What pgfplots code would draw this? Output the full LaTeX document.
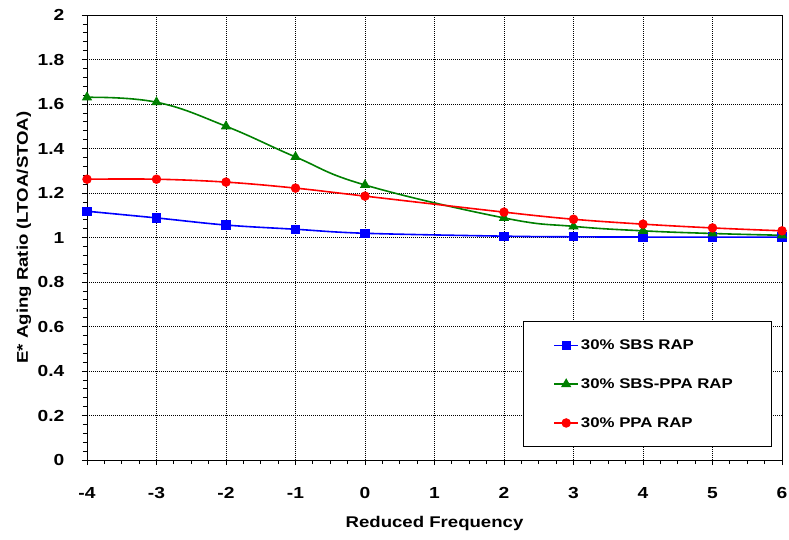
\documentclass[border=0pt]{standalone}
\usepackage{fontspec}
\setmainfont{Liberation Sans}[FakeStretch=1.2]
\usepackage{pgfplots}
\pgfplotsset{compat=1.18}
\begin{document}
\begin{tikzpicture}
\begin{axis}[
  scale only axis,
  width=695pt, height=445pt,
  xmin=-4, xmax=6, ymin=0, ymax=2,
  xtick={-4,-3,...,6},
  ytick={0,0.2,...,2},
  minor x tick num=3,
  minor y tick num=4,
  yticklabel style={/pgf/number format/fixed,/pgf/number format/precision=1},
  /pgf/number format/assume math mode=true,
  tick label style={font=\fontsize{16}{18}\selectfont\bfseries, inner sep=0pt},
  x tick label style={anchor=center, yshift=-28pt},
  y tick label style={anchor=east, xshift=-17.5pt},
  label style={font=\fontsize{15.5}{17}\selectfont\bfseries},
  xlabel={Reduced Frequency},
  ylabel={E* Aging Ratio (LTOA/STOA)},
  xlabel style={at={(rel axis cs:0.5,0)}, anchor=center, yshift=-63pt},
  ylabel style={at={(rel axis cs:0,0.5)}, anchor=center, yshift=63pt},
  grid=major,
  major grid style={black, line width=0.6pt, dash pattern=on 1pt off 1pt},
  axis line style={black, line width=0.9pt},
  major tick length=5pt, minor tick length=4pt,
  major tick style={black, line width=0.8pt},
  minor tick style={black, line width=0.8pt},
  xtick pos=bottom, ytick pos=left,
  xtick align=outside, ytick align=outside,
  legend style={at={(rel axis cs:0.6273,0.0292)}, anchor=south west,
    draw=black, line width=0.8pt, font=\fontsize{14}{16}\selectfont\bfseries,
    inner xsep=30pt, inner ysep=16pt, row sep=23.5pt,
    text width=158pt},
  legend cell align=left,
  legend image code/.code={\draw[mark repeat=2,mark phase=2,#1] plot coordinates {(0pt,0pt) (12pt,0pt) (24pt,0pt)};},
]
\addplot[blue, line width=1.6pt, smooth, tension=0.6, mark=square*, mark size=3.8pt, mark options={solid}]
  coordinates {(-4,1.118) (-3,1.088) (-2,1.056) (-1,1.037) (0,1.019) (2,1.006) (3,1.003) (4,1.002) (5,1.002) (6,1.002)};
\addlegendentry{30\% SBS RAP}
\addplot[green!50!black, line width=1.6pt, smooth, tension=0.7, mark=triangle*, mark size=4.4pt, mark options={solid}]
  coordinates {(-4,1.630) (-3,1.608) (-2,1.500) (-1,1.362) (0,1.236) (2,1.088) (3,1.050) (4,1.030) (5,1.018) (6,1.010)};
\addlegendentry{30\% SBS-PPA RAP}
\addplot[red, line width=1.6pt, smooth, tension=0.6, mark=*, mark size=3.9pt, mark options={solid}]
  coordinates {(-4,1.262) (-3,1.262) (-2,1.249) (-1,1.222) (0,1.186) (2,1.114) (3,1.082) (4,1.060) (5,1.043) (6,1.030)};
\addlegendentry{30\% PPA RAP}
\end{axis}
\pgfresetboundingbox
\useasboundingbox (-87pt,-79pt) rectangle (702pt,460pt);
\end{tikzpicture}
\end{document}
